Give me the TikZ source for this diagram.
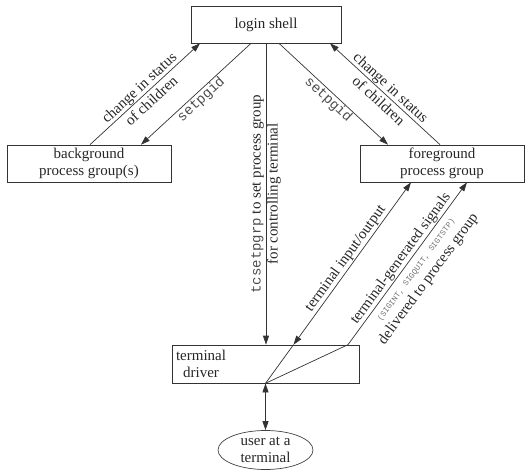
\documentclass[tikz,border=0pt]{standalone}
\usepackage{fontspec}
\setmainfont{Liberation Serif}
\setmonofont{Liberation Mono}
\usetikzlibrary{arrows.meta,shapes.geometric}
\begin{document}
\begin{tikzpicture}[x=1pt,y=-1pt,
  every node/.style={font=\fontsize{15}{17}\selectfont, text=black!85},
  box/.style={draw=black!80, line width=0.7pt, rectangle, inner sep=0pt, align=center},
  conn/.style={draw=black!80, line width=0.7pt},
  tip/.style={-{Triangle[length=9pt,width=6pt]}},
  tipback/.style={{Triangle[length=9pt,width=6pt]}-},
  tipboth/.style={{Triangle[length=9pt,width=6pt]}-{Triangle[length=9pt,width=6pt]}},
  lbl/.style={sloped, inner sep=1pt, align=center},
  straddle/.style={sloped, inner sep=0pt, align=center, font=\fontsize{15}{18}\selectfont},
  code/.style={font=\fontsize{14}{17}\selectfont\ttfamily, text=black!70},
  sig/.style={font=\fontsize{8}{9}\selectfont\ttfamily, text=black!55}]
\useasboundingbox (0,0) rectangle (531,474);

% process boxes
\node[box, minimum width=150, minimum height=37] (login) at (266,24.5) {login shell};
\node[box, minimum width=164, minimum height=37] (bg) at (89,163.5) {background\\process group(s)};
\node[box, minimum width=164, minimum height=37] (fg) at (442,163.5) {foreground\\process group};
\node[box, minimum width=187, minimum height=38] (td) at (265.5,364) {};
\node[align=center, inner sep=0pt] (tdtext) at (201,364) {terminal\\driver};
\node[draw=black!75, line width=0.7pt, ellipse, inner sep=0pt, minimum width=95, minimum height=39, align=center]
  (user) at (265.5,450) {user at a\\terminal};

% shell <-> background group
\draw[conn, tip] ([xshift=1]bg.north) --
  node[straddle] {change in status\\of children} ([xshift=-66]login.south);
\draw[conn, tipback] ([xshift=52]bg.north) --
  node[lbl, below=0pt, code] {setpgid} ([xshift=-15]login.south);

% shell <-> foreground group
\draw[conn, tip] ([xshift=13]login.south) --
  node[lbl, below=0pt, code] {setpgid} ([xshift=-54]fg.north);
\draw[conn, tipback] ([xshift=64]login.south) --
  node[straddle] {change in status\\of children} ([xshift=-2]fg.north);

% shell -> terminal driver
\draw[conn, tip] (login.south) --
  node[midway, rotate=90, align=center, inner sep=0pt, font=\fontsize{15}{17}\selectfont]
  {{\fontsize{14}{17}\selectfont\ttfamily\color{black!70}tcsetpgrp} to set process group\\for controlling terminal}
  (login.south |- td.north);

% terminal driver <-> foreground group
\coordinate (iotop) at ([xshift=-31]fg.south);
\coordinate (ioin) at (intersection of td.south--iotop and td.north west--td.north east);
\draw[conn] (td.south) -- (ioin);
\draw[conn, tipboth] (ioin) -- node[lbl, above] {terminal input/output} (iotop);

% signals from the terminal driver
\coordinate (sigc) at ([xshift=82.5]td.north);
\coordinate (sigtop) at ([xshift=25]fg.south);
\draw[conn, tip] (td.south) -- (sigc) --
  node[lbl, above] {terminal-generated signals}
  node[lbl, below=6pt, sig] {(SIGINT, SIGQUIT, SIGTSTP)}
  node[lbl, below=18pt] {delivered to process group}
  (sigtop);

% terminal driver <-> user
\draw[conn, tipboth] (td.south) -- (user.north);
\end{tikzpicture}
\end{document}
